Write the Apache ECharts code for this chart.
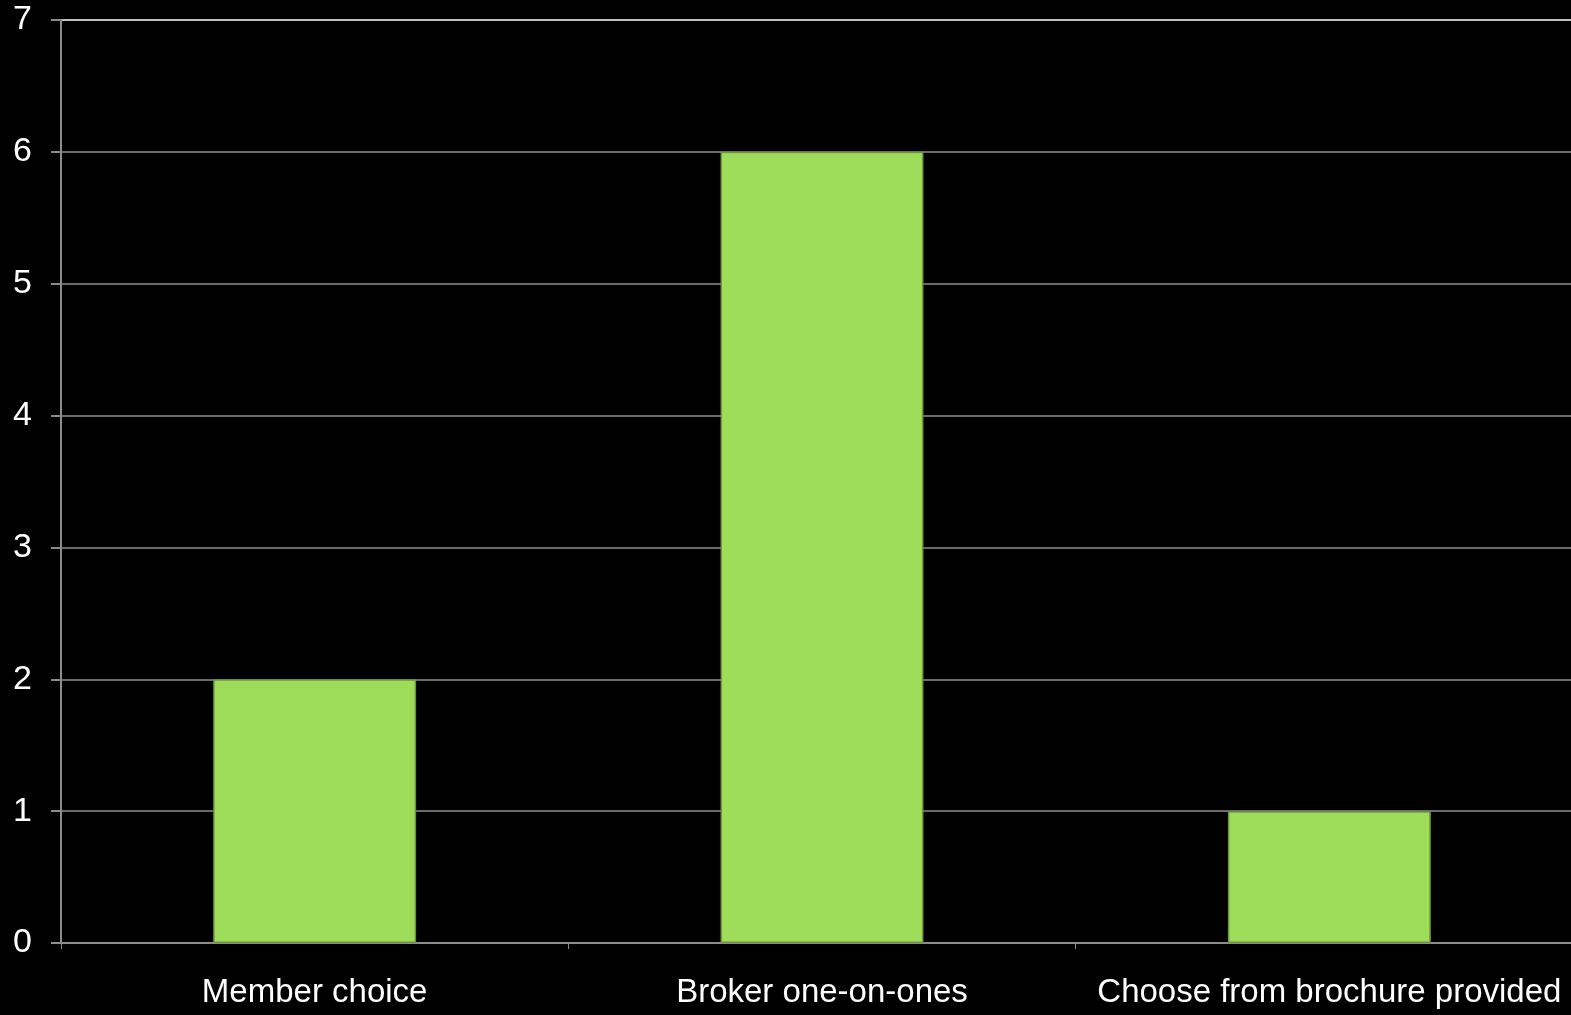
<!DOCTYPE html>
<html>
<head>
    <meta charset="utf-8">
    <title>Bar chart</title>
    <script src="https://cdn.jsdelivr.net/npm/echarts@6/dist/echarts.min.js"></script>
    <style>
        html, body { margin: 0; padding: 0; background: #000; }
    </style>
</head>
<body>
    <div id="main" style="width: 1571px;height:1015px;"></div>
    <script type="text/javascript">

var categories = ['Member choice', 'Broker one-on-ones', 'Choose from brochure provided'];
var counts = [2, 6, 1];

var myChart = echarts.init(document.getElementById('main'));

myChart.setOption({
    backgroundColor: '#000000',
    animation: false,
    grid: {
        left: 61,
        top: 20,
        width: 1522,
        bottom: 72,
        outerBoundsMode: 'none',
        containLabel: false
    },
    xAxis: {
        type: 'category',
        data: categories,
        axisLine: { lineStyle: { color: '#8c8c8c', width: 2 } },
        axisTick: { show: true, length: 6, lineStyle: { color: '#8c8c8c', width: 1 } },
        axisLabel: {
            interval: 0,
            color: '#ffffff',
            fontFamily: 'Liberation Sans, Arial, sans-serif',
            fontSize: 33,
            margin: 33
        }
    },
    yAxis: {
        type: 'value',
        min: 0,
        max: 7,
        interval: 1,
        axisLine: { show: true, lineStyle: { color: '#8c8c8c', width: 2 } },
        axisTick: { show: true, length: 10, lineStyle: { color: '#8c8c8c', width: 2 } },
        axisLabel: {
            color: '#ffffff',
            fontFamily: 'Liberation Sans, Arial, sans-serif',
            fontSize: 34,
            margin: 29
        },
        splitLine: {
            lineStyle: {
                color: ['#8c8c8c', '#8c8c8c', '#8c8c8c', '#8c8c8c', '#8c8c8c', '#8c8c8c', '#8c8c8c', '#ffffff'],
                width: 1.5
            }
        }
    },
    series: [{
        type: 'bar',
        data: counts,
        barWidth: '40%',
        itemStyle: {
            color: '#9ddd59',
            borderColor: '#6f963f',
            borderWidth: 1.5
        }
    }]
});
</script>
</body>
</html>
